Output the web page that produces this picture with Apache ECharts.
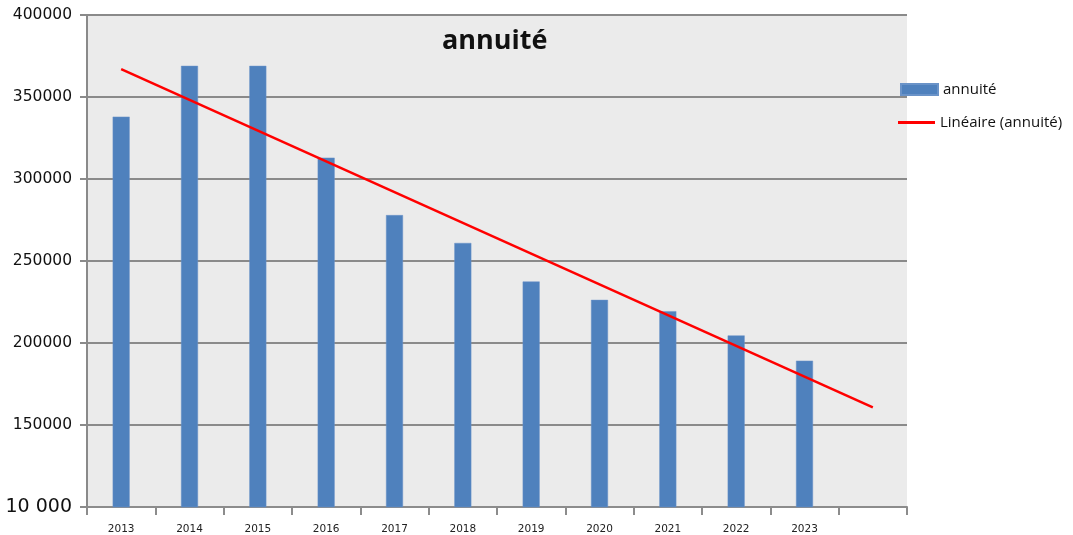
<!DOCTYPE html>
<html>
<head>
<meta charset="utf-8">
<title>annuité</title>
<script src="https://cdn.jsdelivr.net/npm/echarts@6/dist/echarts.min.js"></script>
<style>
  html, body { margin: 0; padding: 0; background: #fff; }
  #chart { width: 1073px; height: 535px; }
</style>
</head>
<body>
<div id="chart"></div>
<script>
// années (la dernière catégorie est vide, la courbe de tendance y finit)
var categories = ['2013', '2014', '2015', '2016', '2017', '2018', '2019', '2020', '2021', '2022', '2023', ''];
var annuite = [338000, 369000, 369000, 313000, 278000, 261000, 237500, 226300, 219400, 204600, 189200, null];
// tendance linéaire : début et fin
var tendance = [367000, null, null, null, null, null, null, null, null, null, null, 160800];
var yTicks = [100000, 150000, 200000, 250000, 300000, 350000, 400000];
var yTickLabels = ['10 000', '150000', '200000', '250000', '300000', '350000', '400000'];

var chart = echarts.init(document.getElementById('chart'));

var legendText = { fontFamily: 'Open Sans', fontSize: 15, color: '#111' };

var option = {
  backgroundColor: '#fff',
  animation: false,
  title: {
    text: 'annuité',
    left: 437,
    top: 23,
    textStyle: { fontFamily: 'Open Sans', fontWeight: 'bold', fontSize: 27, color: '#111' }
  },
  // deux légendes : un rectangle pour les barres, un trait pour la tendance
  legend: [
    {
      orient: 'vertical',
      left: 900,
      top: 82,
      padding: 0,
      itemWidth: 37,
      itemHeight: 11,
      textStyle: legendText,
      data: [{ name: 'annuité', icon: 'rect' }]
    },
    {
      orient: 'vertical',
      left: 898,
      top: 115,
      padding: 0,
      itemWidth: 37,
      itemHeight: 3,
      textStyle: legendText,
      data: [{ name: 'Linéaire (annuité)', icon: 'rect' }]
    }
  ],
  grid: {
    left: 87,
    right: 166,
    top: 15,
    bottom: 28,
    show: true,
    backgroundColor: '#ebebeb',
    borderWidth: 0,
    outerBoundsMode: 'none'
  },
  xAxis: {
    type: 'category',
    data: categories,
    axisLine: { lineStyle: { color: '#8c8c8c', width: 2 } },
    axisTick: { show: true, length: 8, lineStyle: { color: '#8c8c8c', width: 2 } },
    axisLabel: { margin: 17, fontFamily: 'DejaVu Sans', fontSize: 10.5, color: '#222' }
  },
  yAxis: {
    type: 'value',
    min: 100000,
    max: 400000,
    interval: 50000,
    axisLine: { show: true, lineStyle: { color: '#8a8a8a', width: 2 } },
    axisTick: { show: true, length: 7, lineStyle: { color: '#8a8a8a', width: 2 } },
    splitLine: { show: true, lineStyle: { color: '#8a8a8a', width: 2 } },
    axisLabel: {
      margin: 15,
      fontFamily: 'DejaVu Sans',
      fontSize: 15.5,
      color: '#111',
      formatter: function (v) {
        var i = yTicks.indexOf(v);
        var txt = i >= 0 ? yTickLabels[i] : '';
        return i === 0 ? '{big|' + txt + '}' : txt;
      },
      rich: {
        big: { fontFamily: 'DejaVu Sans', fontSize: 19, color: '#111' }
      }
    }
  },
  series: [
    {
      name: 'annuité',
      type: 'bar',
      data: annuite,
      barWidth: 17,
      itemStyle: { color: '#4f81bd', borderColor: '#6a93c8', borderWidth: 0.5 }
    },
    {
      name: 'Linéaire (annuité)',
      type: 'line',
      data: tendance,
      connectNulls: true,
      symbol: 'none',
      lineStyle: { color: '#ff0000', width: 2.5 },
      itemStyle: { color: '#ff0000' },
      z: 5
    }
  ]
};

chart.setOption(option);
</script>
</body>
</html>
